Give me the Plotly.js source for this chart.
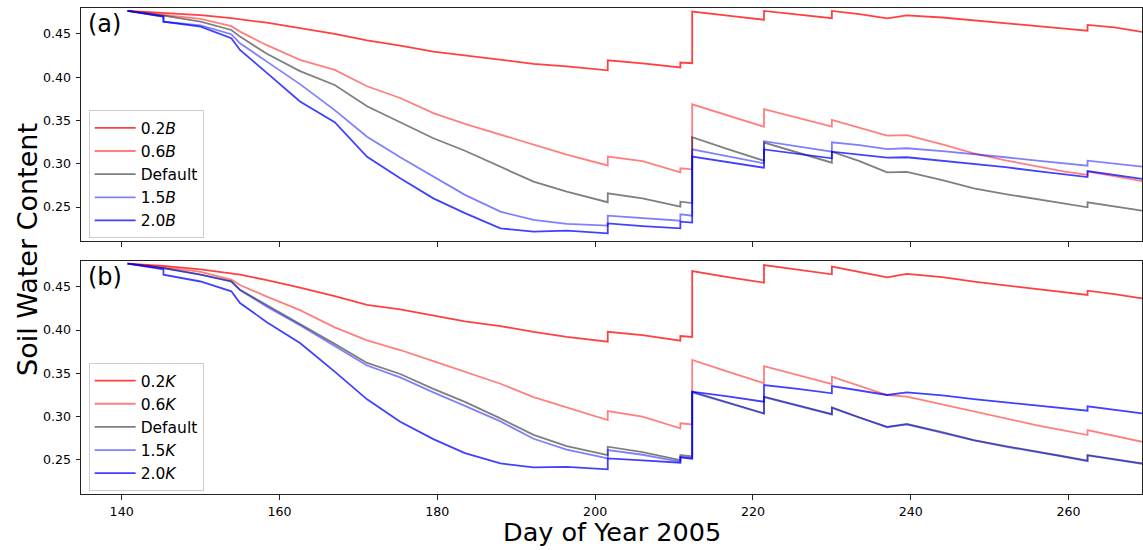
<!DOCTYPE html>
<html>
<head>
<meta charset="utf-8">
<script src="https://cdn.plot.ly/plotly-3.0.1.min.js"></script>
<style>html,body{margin:0;padding:0;background:#fff;}#chart{width:1143px;height:550px;}</style>
</head>
<body>
<div id="chart"></div>
<script>
// Day of year (shared by all series; repeated days mark sudden jumps)
const days = [140.75, 145.3, 145.3, 150, 153.9, 155, 158.4, 162.6, 167, 171.1, 175.3, 179.5, 183.5, 188, 192.2, 196.4, 201.6, 201.6, 206, 210.8, 210.8, 212.3, 212.3, 216.8, 221.4, 221.4, 225.7, 230, 230, 233.5, 237, 239.5, 244, 248, 252, 256, 259.5, 262.4, 262.4, 265.8, 269.3];

// Panel (a): B scaling
const a_02B = [0.4766, 0.4742, 0.4742, 0.4718, 0.4682, 0.4670, 0.4630, 0.4568, 0.4500, 0.4425, 0.4365, 0.4295, 0.4250, 0.4195, 0.4155, 0.4125, 0.4080, 0.4196, 0.4160, 0.4112, 0.4170, 0.4162, 0.4758, 0.4712, 0.4664, 0.4766, 0.4725, 0.4682, 0.4766, 0.4728, 0.4680, 0.4715, 0.4690, 0.4655, 0.4625, 0.4590, 0.4562, 0.4538, 0.4604, 0.4575, 0.4523];
const a_06B = [0.4766, 0.4725, 0.4725, 0.4675, 0.4590, 0.4527, 0.4370, 0.4200, 0.4085, 0.3895, 0.3760, 0.3585, 0.3460, 0.3335, 0.3220, 0.3105, 0.2980, 0.3082, 0.3030, 0.2900, 0.2947, 0.2935, 0.3687, 0.3560, 0.3428, 0.3630, 0.3530, 0.3428, 0.3506, 0.3420, 0.3325, 0.3330, 0.3225, 0.3121, 0.3040, 0.2970, 0.2910, 0.2870, 0.2908, 0.2858, 0.2800];
const a_def = [0.4766, 0.4712, 0.4712, 0.4642, 0.4546, 0.4469, 0.4270, 0.4070, 0.3910, 0.3665, 0.3475, 0.3294, 0.3150, 0.2966, 0.2793, 0.2677, 0.2555, 0.2658, 0.2600, 0.2503, 0.2561, 0.2545, 0.3306, 0.3170, 0.3035, 0.3245, 0.3130, 0.3012, 0.3139, 0.3030, 0.2900, 0.2905, 0.2810, 0.2716, 0.2650, 0.2590, 0.2540, 0.2497, 0.2554, 0.2510, 0.2457];
const a_15B = [0.4766, 0.4700, 0.4642, 0.4600, 0.4497, 0.4392, 0.4180, 0.3920, 0.3620, 0.3313, 0.3075, 0.2850, 0.2640, 0.2446, 0.2350, 0.2305, 0.2285, 0.2400, 0.2375, 0.2342, 0.2416, 0.2400, 0.3167, 0.3090, 0.3005, 0.3260, 0.3200, 0.3139, 0.3248, 0.3215, 0.3170, 0.3179, 0.3145, 0.3113, 0.3075, 0.3035, 0.3000, 0.2977, 0.3035, 0.3005, 0.2966];
const a_20B = [0.4766, 0.4700, 0.4642, 0.4584, 0.4450, 0.4315, 0.4050, 0.3720, 0.3480, 0.3080, 0.2832, 0.2600, 0.2430, 0.2254, 0.2215, 0.2226, 0.2196, 0.2310, 0.2280, 0.2253, 0.2330, 0.2320, 0.3082, 0.3020, 0.2954, 0.3165, 0.3110, 0.3063, 0.3139, 0.3105, 0.3070, 0.3075, 0.3035, 0.2997, 0.2960, 0.2915, 0.2880, 0.2846, 0.2916, 0.2870, 0.2824];

// Panel (b): K scaling
const b_02K = [0.4766, 0.4740, 0.4740, 0.4700, 0.4658, 0.4640, 0.4575, 0.4490, 0.4390, 0.4290, 0.4239, 0.4165, 0.4100, 0.4045, 0.3978, 0.3920, 0.3865, 0.3980, 0.3940, 0.3877, 0.3931, 0.3920, 0.4681, 0.4610, 0.4546, 0.4750, 0.4700, 0.4643, 0.4731, 0.4670, 0.4608, 0.4647, 0.4610, 0.4558, 0.4515, 0.4470, 0.4435, 0.4404, 0.4454, 0.4415, 0.4366];
const b_06K = [0.4766, 0.4725, 0.4725, 0.4670, 0.4581, 0.4520, 0.4385, 0.4230, 0.4030, 0.3880, 0.3769, 0.3640, 0.3520, 0.3380, 0.3225, 0.3110, 0.2961, 0.3065, 0.3000, 0.2865, 0.2923, 0.2910, 0.3654, 0.3520, 0.3385, 0.3584, 0.3480, 0.3376, 0.3461, 0.3360, 0.3250, 0.3230, 0.3140, 0.3057, 0.2980, 0.2900, 0.2840, 0.2788, 0.2845, 0.2780, 0.2710];
const b_def = [0.4766, 0.4715, 0.4715, 0.4640, 0.4562, 0.4465, 0.4285, 0.4070, 0.3840, 0.3620, 0.3492, 0.3320, 0.3170, 0.2980, 0.2790, 0.2660, 0.2557, 0.2653, 0.2590, 0.2499, 0.2557, 0.2540, 0.3288, 0.3160, 0.3038, 0.3230, 0.3130, 0.3030, 0.3107, 0.2990, 0.2883, 0.2915, 0.2820, 0.2730, 0.2660, 0.2600, 0.2540, 0.2491, 0.2557, 0.2510, 0.2461];
const b_15K = [0.4766, 0.4715, 0.4715, 0.4640, 0.4560, 0.4460, 0.4270, 0.4055, 0.3810, 0.3590, 0.3454, 0.3280, 0.3125, 0.2945, 0.2745, 0.2620, 0.2518, 0.2614, 0.2560, 0.2479, 0.2537, 0.2520, 0.3280, 0.3155, 0.3035, 0.3225, 0.3125, 0.3025, 0.3100, 0.2985, 0.2878, 0.2910, 0.2815, 0.2725, 0.2655, 0.2595, 0.2535, 0.2487, 0.2552, 0.2505, 0.2456];
const b_20K = [0.4766, 0.4700, 0.4639, 0.4560, 0.4447, 0.4312, 0.4090, 0.3850, 0.3520, 0.3200, 0.2940, 0.2740, 0.2580, 0.2460, 0.2414, 0.2420, 0.2391, 0.2518, 0.2495, 0.2468, 0.2530, 0.2515, 0.3288, 0.3235, 0.3172, 0.3365, 0.3320, 0.3269, 0.3353, 0.3300, 0.3250, 0.3281, 0.3245, 0.3203, 0.3165, 0.3125, 0.3095, 0.3068, 0.3119, 0.3080, 0.3038];

const labelsA = ['0.2<i>B</i>', '0.6<i>B</i>', 'Default', '1.5<i>B</i>', '2.0<i>B</i>'];
const labelsB = ['0.2<i>K</i>', '0.6<i>K</i>', 'Default', '1.5<i>K</i>', '2.0<i>K</i>'];
const colors = ['rgba(255,0,0,0.75)', 'rgba(255,0,0,0.5)', 'rgba(0,0,0,0.5)', 'rgba(0,0,255,0.5)', 'rgba(0,0,255,0.75)'];
const yTicks = [0.25, 0.30, 0.35, 0.40, 0.45];
const xTicks = [140, 160, 180, 200, 220, 240, 260];

const FONT = 'DejaVu Sans, sans-serif';
const seriesA = [a_02B, a_06B, a_def, a_15B, a_20B];
const seriesB = [b_02K, b_06K, b_def, b_15K, b_20K];

const traces = [];
seriesA.forEach((ys, i) => traces.push({
  x: days, y: ys, type: 'scatter', mode: 'lines', name: labelsA[i],
  xaxis: 'x', yaxis: 'y', legend: 'legend',
  line: {color: colors[i], width: 1.8}, hoverinfo: 'skip'
}));
seriesB.forEach((ys, i) => traces.push({
  x: days, y: ys, type: 'scatter', mode: 'lines', name: labelsB[i],
  xaxis: 'x2', yaxis: 'y2', legend: 'legend2',
  line: {color: colors[i], width: 1.8}, hoverinfo: 'skip'
}));

const W = 1143, H = 550, L = 81, R = 1;
const xr = [134.85, 269.3];
const yr = [0.2107, 0.480];
const axCommon = {
  showline: true, mirror: true, linecolor: '#222', linewidth: 1,
  ticks: 'outside', ticklen: 4.5, tickwidth: 1, tickcolor: '#222',
  showgrid: false, zeroline: false,
  tickfont: {family: FONT, size: 12.6, color: '#000'}
};
const legendCommon = {
  xanchor: 'left', yanchor: 'top',
  bgcolor: 'rgba(255,255,255,0.8)', bordercolor: '#cccccc', borderwidth: 1,
  font: {family: FONT, size: 15.5, color: '#000'},
  tracegroupgap: 0, itemwidth: 41
};

const layout = {
  width: W, height: H,
  margin: {l: L, r: R, t: 0, b: 0},
  paper_bgcolor: '#fff', plot_bgcolor: '#fff',
  showlegend: true,
  xaxis: Object.assign({}, axCommon, {range: xr, anchor: 'y', tickvals: xTicks, showticklabels: false, domain: [0, 1]}),
  xaxis2: Object.assign({}, axCommon, {range: xr, anchor: 'y2', tickvals: xTicks, ticktext: xTicks.map(String), domain: [0, 1], ticklabelstandoff: 1}),
  yaxis: Object.assign({}, axCommon, {range: yr, anchor: 'x', domain: [0.5618, 0.9855], tickvals: yTicks, ticktext: yTicks.map(v => v.toFixed(2)), ticklabelstandoff: 2}),
  yaxis2: Object.assign({}, axCommon, {range: yr, anchor: 'x2', domain: [0.1018, 0.526], tickvals: yTicks, ticktext: yTicks.map(v => v.toFixed(2)), ticklabelstandoff: 2}),
  legend: Object.assign({}, legendCommon, {x: 0.0072, y: 0.7995}),
  legend2: Object.assign({}, legendCommon, {x: 0.0072, y: 0.340}),
  annotations: [
    {text: '(a)', xref: 'paper', yref: 'paper', x: 0.005, y: 0.9855, xanchor: 'left', yanchor: 'top', showarrow: false, font: {family: FONT, size: 24, color: '#000'}},
    {text: '(b)', xref: 'paper', yref: 'paper', x: 0.005, y: 0.526, xanchor: 'left', yanchor: 'top', showarrow: false, font: {family: FONT, size: 24, color: '#000'}},
    {text: 'Day of Year 2005', xref: 'paper', yref: 'paper', x: 0.5, y: 1 - 548 / H, xanchor: 'center', yanchor: 'bottom', borderpad: 0, showarrow: false, font: {family: FONT, size: 25.5, color: '#000'}},
    {text: 'Soil Water Content', xref: 'paper', yref: 'paper', x: (27 - L) / (W - L - R), y: 1 - 250 / H, xanchor: 'center', yanchor: 'middle', textangle: -90, showarrow: false, font: {family: FONT, size: 27, color: '#000'}}
  ]
};

Plotly.newPlot('chart', traces, layout, {displayModeBar: false, staticPlot: true});
</script>
</body>
</html>
